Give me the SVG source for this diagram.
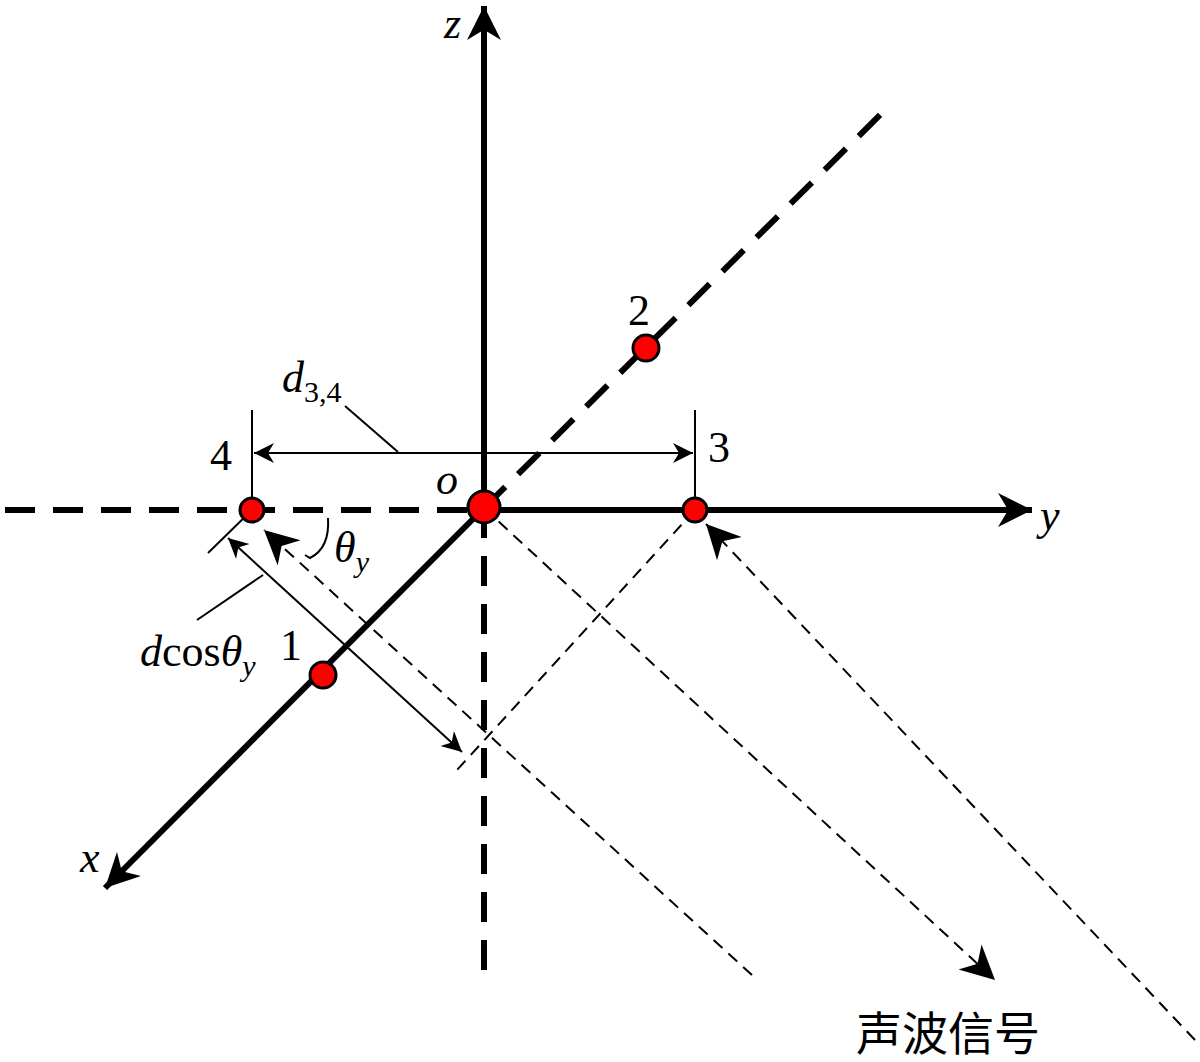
<svg xmlns="http://www.w3.org/2000/svg" width="1200" height="1062" viewBox="0 0 1200 1062">
<style>
.t{font-family:"Liberation Serif",serif;font-size:44px;fill:#000}
.i{font-style:italic}
.ax{stroke:#000;stroke-width:6;fill:none}
.axd{stroke:#000;stroke-width:6;fill:none;stroke-dasharray:30,18}
.th{stroke:#000;stroke-width:2;fill:none}
.thd{stroke:#000;stroke-width:2;fill:none;stroke-dasharray:12,8}
.n{fill:#f00;stroke:#000;stroke-width:3}
</style>
<defs>
<marker id="sm" viewBox="0 0 10 10" refX="10" refY="5" markerWidth="30" markerHeight="20" markerUnits="userSpaceOnUse" orient="auto-start-reverse"><path d="M0,0 L10,5 L0,10 L3,5 Z"/></marker>
<marker id="md" viewBox="0 0 10 10" refX="10" refY="5" markerWidth="44" markerHeight="34" markerUnits="userSpaceOnUse" orient="auto"><path d="M0,0 L10,5 L0,10 L3,5 Z"/></marker>
</defs>
<g id="connectors">
<line class="axd" x1="5" y1="510" x2="484" y2="510"/>
<line class="axd" x1="484" y1="508" x2="484" y2="978"/>
<line class="axd" x1="484" y1="508" x2="885" y2="110"/>
<line class="ax" x1="484" y1="508" x2="484" y2="6" marker-end="url(#md)"/>
<line class="ax" x1="484" y1="510" x2="1032" y2="510" marker-end="url(#md)"/>
<line class="ax" x1="484" y1="508" x2="105" y2="888" marker-end="url(#md)"/>
<line class="thd" x1="752" y1="975" x2="264" y2="530" marker-end="url(#md)"/>
<line class="thd" x1="484" y1="508" x2="995" y2="980" marker-end="url(#md)"/>
<line class="thd" x1="1195" y1="1040" x2="706" y2="524" marker-end="url(#md)"/>
<line class="thd" x1="695" y1="510" x2="457" y2="770"/>
<line class="th" x1="252" y1="410" x2="252" y2="510"/>
<line class="th" x1="695" y1="410" x2="695" y2="510"/>
<line class="th" x1="254" y1="453" x2="693" y2="453" marker-start="url(#sm)" marker-end="url(#sm)"/>
<line class="th" x1="345" y1="406" x2="398" y2="452"/>
<line class="th" x1="252" y1="510" x2="208" y2="553"/>
<line class="th" x1="228" y1="538" x2="462" y2="752" marker-start="url(#sm)" marker-end="url(#sm)"/>
<line class="th" x1="263" y1="575" x2="197" y2="620"/>
<path class="th" d="M328,518 Q330,548 310,558 L305,555"/>
</g>
<g id="n-o"><circle class="n" cx="484" cy="507" r="16"/></g>
<g id="n1"><circle class="n" cx="323" cy="675" r="13"/></g>
<g id="n2"><circle class="n" cx="646" cy="348" r="13"/></g>
<g id="n3"><circle class="n" cx="695" cy="510" r="12"/></g>
<g id="n4"><circle class="n" cx="252" cy="510" r="12"/></g>
<g id="labels">
<text class="t i" x="444" y="38">z</text>
<text class="t i" x="1040" y="530">y</text>
<text class="t i" x="80" y="872">x</text>
<text class="t i" x="436" y="494">o</text>
<text class="t" x="210" y="470">4</text>
<text class="t" x="708" y="462">3</text>
<text class="t" x="280" y="660">1</text>
<text class="t" x="628" y="325">2</text>
<text class="t" x="282" y="392"><tspan class="i">d</tspan><tspan font-size="30" dy="10">3,4</tspan></text>
<text class="t i" x="334" y="562">θ<tspan font-size="30" dy="10">y</tspan></text>
<text class="t" x="140" y="666"><tspan class="i">d</tspan>cos<tspan class="i">θ</tspan><tspan class="i" font-size="30" dy="10">y</tspan></text>
<text x="856" y="1050" style="font-family:'Liberation Serif','Noto Sans CJK SC',serif;font-size:46px">声波信号</text>
</g>
</svg>
